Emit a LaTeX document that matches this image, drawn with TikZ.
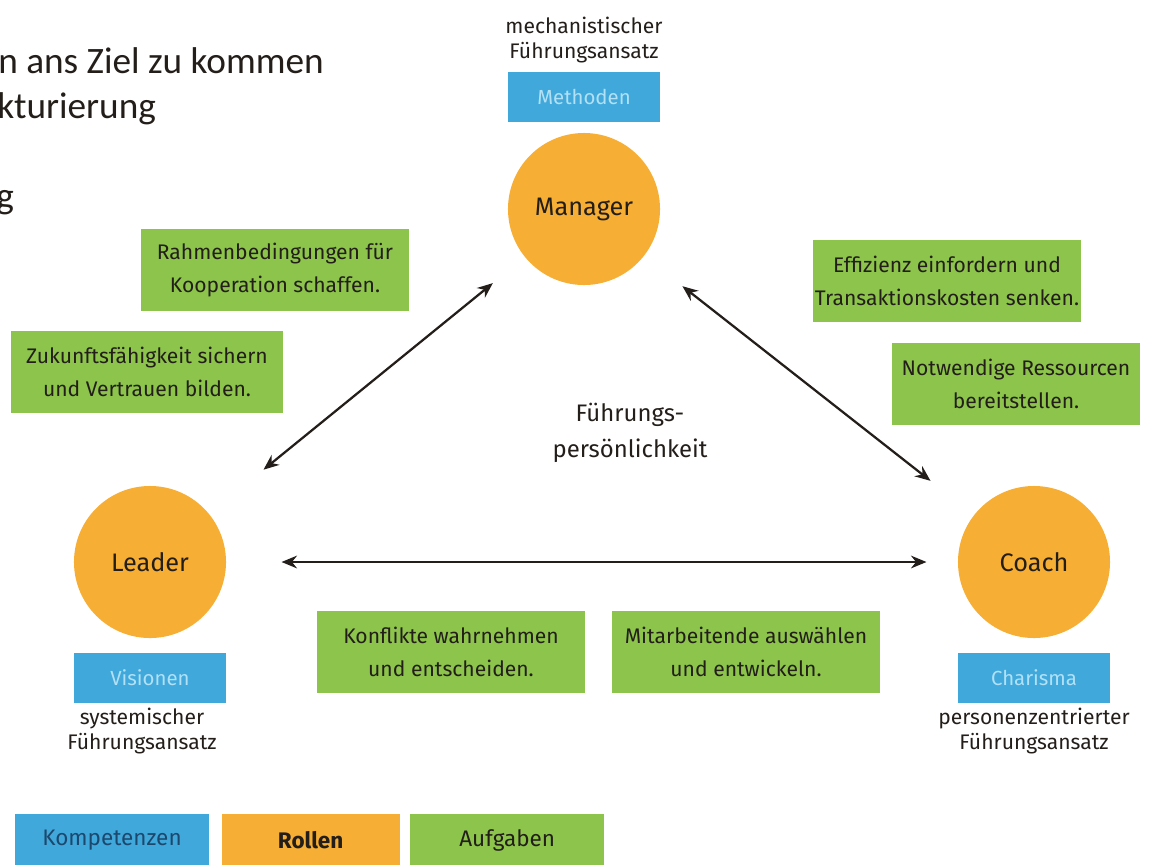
\documentclass[tikz,border=0pt]{standalone}
\usepackage{fontspec}
\setmainfont{Fira Sans}
\newfontfamily\slidefont{Carlito}
\usetikzlibrary{arrows.meta,positioning}
\definecolor{kb}{RGB}{64,168,219}
\definecolor{kbt}{RGB}{178,225,246}
\definecolor{kbd}{RGB}{28,72,110}
\definecolor{ro}{RGB}{247,174,52}
\definecolor{ag}{RGB}{140,196,76}
\definecolor{txt}{RGB}{35,30,25}
\tikzset{
  rolle/.style={circle,fill=ro,minimum size=3.8cm,inner sep=0pt,
    font=\fontsize{18}{22}\selectfont,text=txt},
  komp/.style={rectangle,fill=kb,minimum width=3.8cm,minimum height=1.25cm,
    inner sep=0pt,font=\fontsize{14.5}{16}\selectfont,text=kbt},
  aufg/.style={rectangle,fill=ag,minimum width=#1,minimum height=2.05cm,
    align=center,inner sep=0pt,font=\fontsize{15}{24}\selectfont,text=txt},
  aufg/.default=6.7cm,
  ansatz/.style={align=center,inner sep=2pt,font=\fontsize{15}{17.5}\selectfont,text=txt},
  leg/.style={rectangle,minimum height=1.3cm,inner sep=0pt,
    font=\fontsize{16}{18}\selectfont},
  slide/.style={anchor=base west,inner sep=0pt,
    font=\slidefont\fontsize{26.5}{30}\selectfont,text=txt},
  arr/.style={{Stealth[length=11pt,width=9pt]}-{Stealth[length=11pt,width=9pt]},
    line width=1.6pt,color=txt},
}

\begin{document}
\begin{tikzpicture}[x=0.025cm,y=-0.025cm]
  \useasboundingbox (0,0) rectangle (1152,864);
  % Rest der Folie links oben
  \node[slide] (s1) at (-2,73) {n ans Ziel zu kommen};
  \node[slide] (s2) at (-3,118) {kturierung};
  \node[slide] (s3) at (-4,208) {g};

  % Rollen
  \node[rolle] (mgr) at (584,209) {Manager};
  \node[rolle] (ldr) at (150,562) {Leader};
  \node[rolle] (cch) at (1034,562) {Coach};

  % Kompetenzen und Ansaetze
  \node[komp,above=0.25cm of mgr] (meth) {Methoden};
  \node[ansatz,above=0.15cm of meth] (a1) {mechanistischer\\Führungsansatz};
  \node[komp,below=0.35cm of ldr] (vis) {Visionen};
  \node[ansatz,below=0.05cm of vis,xshift=-0.2cm] (a2) {systemischer\\Führungsansatz};
  \node[komp,below=0.35cm of cch] (char) {Charisma};
  \node[ansatz,below=0.05cm of char] (a3) {personenzentrierter\\Führungsansatz};

  \node[align=center,font=\fontsize{17}{26}\selectfont,text=txt] (fp) at (630,433) {Führungs-\\persönlichkeit};

  % Aufgaben
  \node[aufg] (rb) at (275,270) {Rahmenbedingungen für\\Kooperation schaffen.};
  \node[aufg=6.8cm] (zk) at (147,372) {Zukunftsfähigkeit sichern\\und Vertrauen bilden.};
  \node[aufg] (ef) at (947,281) {Effizienz einfordern und\\Transaktionskosten senken.};
  \node[aufg=6.2cm] (nr) at (1016,384) {Notwendige Ressourcen\\bereitstellen.};
  \node[aufg] (kw) at (451,652) {Konflikte wahrnehmen\\und entscheiden.};
  \node[aufg] (ma) at (746,652) {Mitarbeitende auswählen\\und entwickeln.};

  % Pfeile
  \draw[arr,shorten <=1.03cm,shorten >=1.75cm] (mgr) -- (ldr);
  \draw[arr,shorten <=1.22cm,shorten >=1.38cm] (mgr) -- (cch);
  \draw[arr,shorten <=1.38cm,shorten >=0.78cm] (ldr) -- (cch);

  % Legende
  \node[leg,fill=kb,text=kbd,minimum width=4.85cm] (lk) at (112,840) {Kompetenzen};
  \node[leg,fill=ro,text=txt,minimum width=4.45cm,right=0.3cm of lk] (lr) {\textbf{Rollen}};
  \node[leg,fill=ag,text=txt,minimum width=4.85cm,right=0.25cm of lr] (la) {Aufgaben};
\end{tikzpicture}
\end{document}
